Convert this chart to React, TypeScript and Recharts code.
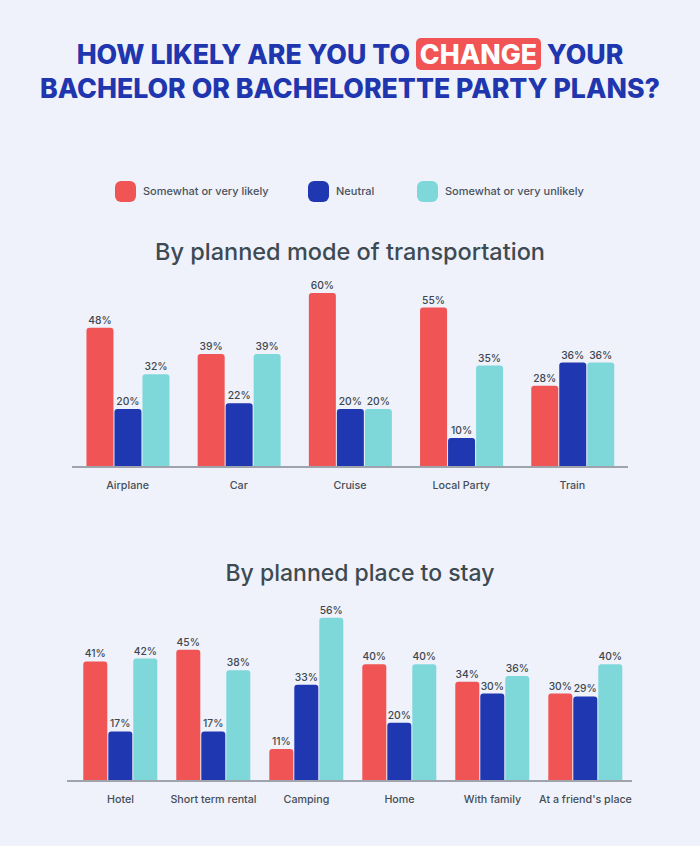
import React from 'react';
import { BarChart, Bar, XAxis, YAxis, LabelList } from 'recharts';

// Survey answers, percent of respondents
const transportCategories = ['Airplane', 'Car', 'Cruise', 'Local Party', 'Train'];
const transportLikely = [48, 39, 60, 55, 28];
const transportNeutral = [20, 22, 20, 10, 36];
const transportUnlikely = [32, 39, 20, 35, 36];

const stayCategories = ['Hotel', 'Short term rental', 'Camping', 'Home', 'With family', "At a friend's place"];
const stayLikely = [41, 45, 11, 40, 34, 30];
const stayNeutral = [17, 17, 33, 20, 30, 29];
const stayUnlikely = [42, 38, 56, 40, 36, 40];

const seriesNames = ['Somewhat or very likely', 'Neutral', 'Somewhat or very unlikely'];

const RED = '#F05455';
const BLUE = '#1F37B1';
const TEAL = '#7ED8DA';
const BG = '#EFF2FA';
const TITLE_BLUE = '#1F36AE';
const TEXT = '#3E4750';
const FONT = 'Inter, "Open Sans", sans-serif';

const buildRows = (cats: string[], a: number[], b: number[], c: number[]) =>
  cats.map((name, i) => ({ name, likely: a[i], neutral: b[i], unlikely: c[i] }));

const transportRows = buildRows(transportCategories, transportLikely, transportNeutral, transportUnlikely);
const stayRows = buildRows(stayCategories, stayLikely, stayNeutral, stayUnlikely);

const pct = (v: any) => `${v}%`;

type GroupProps = {
  rows: any[];
  top: number;
  height: number;
  margin: { top: number; right: number; bottom: number; left: number };
  gap: string;
  padLeft?: number;
};

function GroupedBars({ rows, top, height, margin, gap, padLeft = 0 }: GroupProps) {
  const labelStyle = { fontSize: 10.3, fill: TEXT, fontFamily: FONT, fontWeight: 500 };
  return (
    <div style={{ position: 'absolute', left: 0, top, width: 700, height }}>
      <BarChart width={700} height={height} data={rows} margin={margin} barCategoryGap={gap} barGap={1}>
        <XAxis
          dataKey="name"
          axisLine={{ stroke: '#9EA3AC', strokeWidth: 2 }}
          tickLine={false}
          tickMargin={8}
          height={30}
          interval={0}
          padding={{ left: padLeft, right: 0 }}
          tick={{ fontSize: 10.7, fill: '#454D57', fontFamily: FONT, fontWeight: 500 }}
        />
        <YAxis hide domain={[0, 60]} />
        <Bar dataKey="likely" name={seriesNames[0]} fill={RED} radius={[3, 3, 0, 0]} isAnimationActive={false}>
          <LabelList dataKey="likely" position="top" offset={4} formatter={pct} style={labelStyle} />
        </Bar>
        <Bar dataKey="neutral" name={seriesNames[1]} fill={BLUE} radius={[3, 3, 0, 0]} isAnimationActive={false}>
          <LabelList dataKey="neutral" position="top" offset={4} formatter={pct} style={labelStyle} />
        </Bar>
        <Bar dataKey="unlikely" name={seriesNames[2]} fill={TEAL} radius={[3, 3, 0, 0]} isAnimationActive={false}>
          <LabelList dataKey="unlikely" position="top" offset={4} formatter={pct} style={labelStyle} />
        </Bar>
      </BarChart>
    </div>
  );
}

const legendItems = [
  { label: seriesNames[0], color: RED, x: 115 },
  { label: seriesNames[1], color: BLUE, x: 308 },
  { label: seriesNames[2], color: TEAL, x: 417 },
];

export default function App() {
  const titleLine: React.CSSProperties = {
    position: 'absolute',
    left: 0,
    width: 700,
    textAlign: 'center',
    fontFamily: FONT,
    fontWeight: 800,
    fontSize: 26.7,
    color: TITLE_BLUE,
    lineHeight: '30px',
    whiteSpace: 'nowrap',
  };
  const subtitle: React.CSSProperties = {
    position: 'absolute',
    left: 0,
    width: 700,
    textAlign: 'center',
    fontFamily: FONT,
    fontWeight: 500,
    fontSize: 23.5,
    color: '#3E4A52',
    lineHeight: '26px',
  };
  return (
    <div style={{ position: 'absolute', left: 0, top: 0, width: 700, height: 846, background: BG, overflow: 'hidden' }}>
      <div style={{ ...titleLine, top: 39 }}>
        HOW LIKELY ARE YOU TO{' '}
        <span style={{ background: RED, color: '#FFFFFF', borderRadius: 5, padding: '0 4px' }}>CHANGE</span> YOUR
      </div>
      <div style={{ ...titleLine, top: 73 }}>BACHELOR OR BACHELORETTE PARTY PLANS?</div>

      {legendItems.map((it) => (
        <div key={it.label} style={{ position: 'absolute', left: it.x, top: 180, height: 22, display: 'flex', alignItems: 'center' }}>
          <div style={{ width: 21, height: 21, borderRadius: 6, background: it.color }} />
          <span style={{ marginLeft: 7, fontFamily: FONT, fontSize: 11, fontWeight: 500, color: '#4A5260' }}>{it.label}</span>
        </div>
      ))}

      <div style={{ ...subtitle, top: 239 }}>By planned mode of transportation</div>
      <GroupedBars rows={transportRows} top={260} height={240} margin={{ top: 33, right: 72, bottom: 3, left: 72 }} gap="13%" />

      <div style={{ ...subtitle, top: 560, left: 10, fontSize: 23 }}>By planned place to stay</div>
      <GroupedBars rows={stayRows} top={580} height={235} margin={{ top: 26, right: 68, bottom: 4, left: 67 }} gap="10%" padLeft={7} />
    </div>
  );
}
